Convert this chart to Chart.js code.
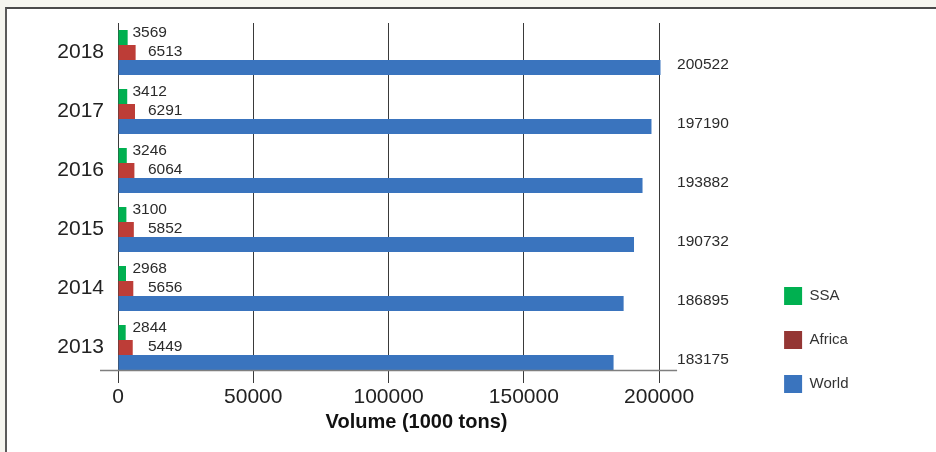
<!DOCTYPE html>
<html>
<head>
<meta charset="utf-8">
<script src="https://cdn.jsdelivr.net/npm/chart.js@4.4.1/dist/chart.umd.min.js"></script>
<style>
  html, body { margin: 0; padding: 0; }
  body { width: 936px; height: 452px; background: #f5f5ef; position: relative; overflow: hidden; }
  #panel { position: absolute; left: 5px; top: 7px; right: 0; bottom: 0; background: #fff;
           border-left: 2px solid #5a5a5a; border-top: 2px solid #4a4a4a; }
  #chart { position: absolute; left: 0; top: 0; }
</style>
</head>
<body>
<div id="panel"></div>
<canvas id="chart" width="936" height="452"></canvas>
<script>
// Production volumes (1000 tons), listed top row first
const YEARS  = ['2018', '2017', '2016', '2015', '2014', '2013'];
const SSA    = [3569, 3412, 3246, 3100, 2968, 2844];
const AFRICA = [6513, 6291, 6064, 5852, 5656, 5449];
const WORLD  = [200522, 197190, 193882, 190732, 186895, 183175];

const SERIES_NAMES  = ['SSA', 'Africa', 'World'];
const BAR_COLORS    = ['#00b050', '#bd3d37', '#3a74be'];
const LEGEND_COLORS = ['#00b050', '#943634', '#3a74be'];

const X_TICKS = [0, 50000, 100000, 150000, 200000];
const X_AXIS_MAX = 236600;   // leaves room for the value column right of the grid
const AXIS_TITLE = 'Volume (1000 tons)';

const FONT = '"Liberation Sans", Arial, Helvetica, sans-serif';

// Value labels: small series sit in columns near zero, world values in a column past the grid
const valueLabels = {
  id: 'valueLabels',
  afterDatasetsDraw(chart) {
    const { ctx, scales: { x } } = chart;
    const x0 = x.getPixelForValue(0);
    const xEnd = x.getPixelForValue(X_TICKS[X_TICKS.length - 1]);
    const place = [
      { x: x0 + 14.5, dy: -5 },
      { x: x0 + 30,   dy: -1 },
      { x: xEnd + 18, dy: -3 }
    ];
    ctx.save();
    ctx.font = '15.5px ' + FONT;
    ctx.fillStyle = '#2b2b2b';
    ctx.textAlign = 'left';
    ctx.textBaseline = 'middle';
    chart.data.datasets.forEach((ds, i) => {
      chart.getDatasetMeta(i).data.forEach((bar, j) => {
        ctx.fillText(String(ds.data[j]), place[i].x, bar.y + place[i].dy);
      });
    });

    // baseline under the lowest bar group, running a little past both ends of the grid
    const worldBars = chart.getDatasetMeta(2).data;
    const last = worldBars[worldBars.length - 1];
    const yLine = Math.round(last.y + last.height / 2) + 0.5;
    ctx.strokeStyle = '#7f7f7f';
    ctx.lineWidth = 1.5;
    ctx.beginPath();
    ctx.moveTo(x0 - 18, yLine);
    ctx.lineTo(xEnd + 18, yLine);
    ctx.stroke();
    ctx.restore();
  }
};

// Bold axis title under the tick labels
const axisTitle = {
  id: 'axisTitle',
  afterDraw(chart) {
    const { ctx, scales: { x } } = chart;
    const cx = (x.getPixelForValue(0) + x.getPixelForValue(X_TICKS[X_TICKS.length - 1])) / 2 + 28;
    ctx.save();
    ctx.font = 'bold 20px ' + FONT;
    ctx.fillStyle = '#111';
    ctx.textAlign = 'center';
    ctx.textBaseline = 'middle';
    ctx.fillText(AXIS_TITLE, cx, x.bottom + 3);
    ctx.restore();
  }
};

new Chart(document.getElementById('chart'), {
  type: 'bar',
  data: {
    labels: YEARS,
    datasets: [
      { label: SERIES_NAMES[0], data: SSA,    backgroundColor: BAR_COLORS[0] },
      { label: SERIES_NAMES[1], data: AFRICA, backgroundColor: BAR_COLORS[1] },
      { label: SERIES_NAMES[2], data: WORLD,  backgroundColor: BAR_COLORS[2] }
    ]
  },
  options: {
    indexAxis: 'y',
    responsive: false,
    animation: false,
    devicePixelRatio: 1,
    datasets: { bar: { categoryPercentage: 0.763, barPercentage: 1 } },
    layout: { padding: { top: 23, left: 0, right: 77.5, bottom: 33 } },
    scales: {
      x: {
        min: 0,
        max: X_AXIS_MAX,
        z: 1,
        afterBuildTicks(scale) { scale.ticks = X_TICKS.map(v => ({ value: v })); },
        afterFit(scale) { scale.height = 42; },
        grid: { color: '#3a3a3a', lineWidth: 1, drawTicks: true, tickLength: 6, tickColor: '#3a3a3a' },
        border: { display: false },
        ticks: {
          font: { size: 21, family: FONT },
          color: '#222',
          padding: 2,
          maxRotation: 0,
          callback: v => String(v)
        }
      },
      y: {
        afterFit(scale) {
          scale.width = 118;
          scale.paddingTop = 0;
          scale.paddingBottom = 0;
        },
        grid: { display: false, drawTicks: false },
        border: { display: false },
        ticks: { font: { size: 21, family: FONT }, color: '#222', padding: 14 }
      }
    },
    plugins: {
      legend: {
        position: 'right',
        align: 'end',
        labels: {
          boxWidth: 18,
          boxHeight: 18,
          padding: 26,
          color: '#333',
          font: { size: 15, family: FONT },
          generateLabels(chart) {
            const items = Chart.defaults.plugins.legend.labels.generateLabels(chart);
            items.forEach((it, i) => {
              it.fillStyle = LEGEND_COLORS[i];
              it.strokeStyle = LEGEND_COLORS[i];
              it.lineWidth = 0;
            });
            return items;
          }
        }
      },
      tooltip: { enabled: false }
    }
  },
  plugins: [valueLabels, axisTitle]
});
</script>
</body>
</html>
